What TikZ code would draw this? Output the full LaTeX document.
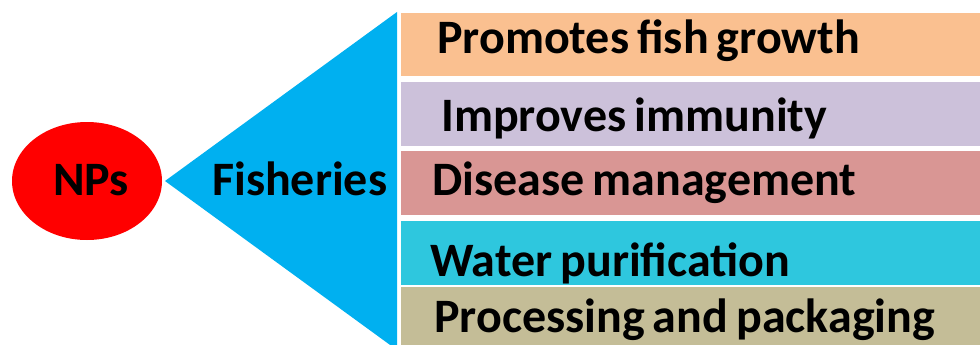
\documentclass[tikz,border=0pt]{standalone}
\usepackage{fontspec}
\setmainfont{Carlito}[WordSpace=0.75]
\usepackage{xcolor}
\usepackage{tikz}
\usetikzlibrary{shapes,positioning}

\definecolor{npred}{HTML}{FF0000}
\definecolor{fishblue}{HTML}{00B0F0}
\definecolor{growthc}{HTML}{FAC090}
\definecolor{immunec}{HTML}{CCC1DA}
\definecolor{diseasec}{HTML}{D99694}
\definecolor{waterc}{HTML}{2EC7DE}
\definecolor{packc}{HTML}{C4BD97}

\begin{document}
\begin{tikzpicture}[
    x=1pt, y=-1pt,
    every node/.style={font=\bfseries\fontsize{48}{54}\selectfont},
    bar/.style={rectangle, inner sep=0pt, minimum width=580pt, anchor=north west},
    label/.style={anchor=base west, inner sep=0pt}
]
    \useasboundingbox (0,0) rectangle (980,345);

    % NPs ellipse
    \node[ellipse, fill=npred, minimum width=150pt, minimum height=118pt, inner sep=0pt] (nps) at (87,181) {};
    \node[label] (npstext) at (53,195) {NPs};

    % Fisheries wedge
    \coordinate (apex) at (165,181);
    \coordinate (wtop) at (397,12);
    \coordinate (wbot) at (397,350);
    \fill[fishblue] (apex) -- (wtop) -- (wbot) -- cycle;
    \node[label] (fish) at (212,195) {Fisheries};

    % Bars
    \node[bar, fill=growthc, minimum height=63pt] (growth) at (401,13) {};
    \node[bar, fill=immunec, minimum height=64pt] (immune) at (401,82) {};
    \node[bar, fill=diseasec, minimum height=64pt] (disease) at (401,151) {};
    \node[bar, fill=waterc, minimum height=64pt] (water) at (401,221) {};
    \node[bar, fill=packc, minimum height=60pt] (pack) at (401,287) {};

    % Bar labels
    \node[label] (growthtext) at (437,54) {Promotes fish growth};
    \node[label] (immunetext) at (441,131) {Improves immunity};
    \node[label] (diseasetext) at (432,195) {Disease management};
    \node[label] (watertext) at (430,276) {Water purification};
    \node[label] (packtext) at (434,332) {Processing and packaging};
\end{tikzpicture}
\end{document}
